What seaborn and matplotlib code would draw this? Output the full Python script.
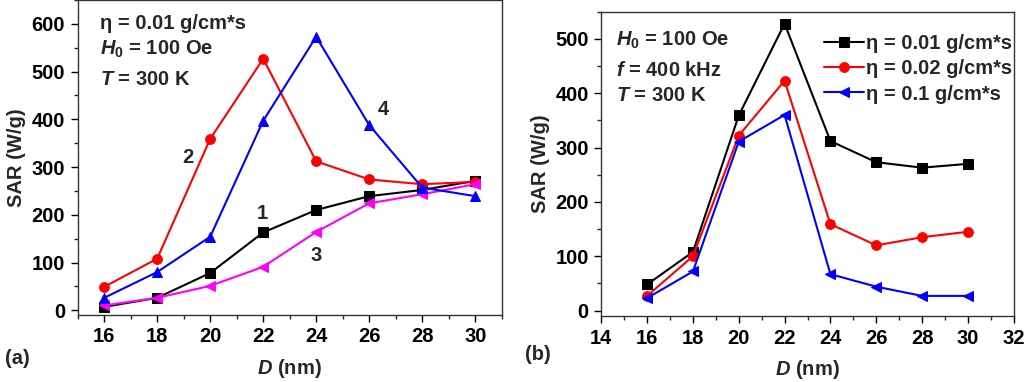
import matplotlib
matplotlib.use("Agg")
import matplotlib.pyplot as plt
import seaborn as sns
import numpy as np
from matplotlib.ticker import MultipleLocator

D = [16, 18, 20, 22, 24, 26, 28, 30]

# panel (a): eta = 0.01 g/cm*s
a1 = [7, 26, 78, 163, 210, 239, 252, 271]
a2 = [49, 108, 359, 527, 312, 274, 264, 269]
a3 = [10, 26, 51, 91, 164, 224, 243, 264]
a4 = [26, 80, 154, 397, 573, 388, 257, 239]

# panel (b): different viscosities
b_001 = [48, 108, 359, 528, 312, 273, 263, 270]
b_002 = [27, 100, 322, 423, 159, 120, 135, 145]
b_01 = [23, 72, 311, 360, 67, 44, 27, 27]
legend_labels = ["η = 0.01 g/cm*s", "η = 0.02 g/cm*s", "η = 0.1 g/cm*s"]

sns.set_theme(style="ticks")
plt.rcParams['font.family'] = ['Liberation Sans', 'DejaVu Sans']
plt.rcParams['font.weight'] = 'bold'
plt.rcParams['mathtext.fontset'] = 'custom'
plt.rcParams['mathtext.rm'] = 'Liberation Sans:bold'
plt.rcParams['mathtext.it'] = 'Liberation Sans:bold:italic'
plt.rcParams['mathtext.bf'] = 'Liberation Sans:bold'

fig = plt.figure(figsize=(10.24, 3.82), dpi=100)
axA = fig.add_axes([77.7/1024, 1 - 315/382, (501.7-77.7)/1024, 315/382])
axB = fig.add_axes([601.3/1024, 1 - 316/382, (1013.7-601.3)/1024, (316-11.7)/382])

FS = 14.5
lw = 1.5

def style(ax):
    for s in ax.spines.values():
        s.set_linewidth(1.0)
        s.set_color('#333333')
    ax.tick_params(which='major', direction='out', length=5, width=1, pad=4, labelsize=FS, colors='black', top=False, right=False)
    ax.tick_params(which='minor', direction='out', length=3, width=1, top=False, right=False)
    for lab in ax.get_xticklabels() + ax.get_yticklabels():
        lab.set_fontweight('bold')
    ax.set_xlabel("$\\mathit{D}$ (nm)", fontsize=FS, fontweight='bold', labelpad=7.5)
    ax.set_ylabel("SAR (W/g)", fontsize=FS, fontweight='bold', labelpad=4)

# Panel (a)
sns.lineplot(x=D, y=a1, ax=axA, color='black', marker='s', markersize=6.5, lw=lw, markeredgecolor='black')
sns.lineplot(x=D, y=a2, ax=axA, color='red', marker='o', markersize=7, lw=lw, markeredgecolor='red')
sns.lineplot(x=D, y=a3, ax=axA, color='magenta', marker='<', markersize=7.5, lw=lw, markeredgecolor='magenta')
sns.lineplot(x=D, y=a4, ax=axA, color='blue', marker='^', markersize=7.5, lw=lw, markeredgecolor='blue')
axA.set_xlim(15, 31)
axA.set_ylim(-10, 650)
axA.xaxis.set_major_locator(MultipleLocator(2))
axA.xaxis.set_minor_locator(MultipleLocator(1))
axA.yaxis.set_major_locator(MultipleLocator(100))
axA.yaxis.set_minor_locator(MultipleLocator(50))
style(axA)
for txt, x, y in [("1", 21.97, 203), ("2", 19.14, 321), ("3", 24.0, 115), ("4", 26.54, 420)]:
    axA.text(x, y, txt, fontsize=FS, fontweight='bold', ha='center', va='center')
axA.text(0.053, 0.924, "η = 0.01 g/cm*s", transform=axA.transAxes, fontsize=FS, fontweight='bold', va='center')
axA.text(0.053, 0.843, "$\\mathit{H}_0$ = 100 Oe", transform=axA.transAxes, fontsize=FS, fontweight='bold', va='center')
axA.text(0.053, 0.749, "$\\mathit{T}$ = 300 K", transform=axA.transAxes, fontsize=FS, fontweight='bold', va='center')

# Panel (b)
sns.lineplot(x=D, y=b_001, ax=axB, color='black', marker='s', markersize=6.5, lw=lw, markeredgecolor='black', label=legend_labels[0])
sns.lineplot(x=D, y=b_002, ax=axB, color='red', marker='o', markersize=7, lw=lw, markeredgecolor='red', label=legend_labels[1])
sns.lineplot(x=D, y=b_01, ax=axB, color='blue', marker='<', markersize=7.5, lw=lw, markeredgecolor='blue', label=legend_labels[2])
axB.set_xlim(14, 32)
axB.set_ylim(-10, 550)
axB.xaxis.set_major_locator(MultipleLocator(2))
axB.xaxis.set_minor_locator(MultipleLocator(1))
axB.yaxis.set_major_locator(MultipleLocator(100))
axB.yaxis.set_minor_locator(MultipleLocator(50))
style(axB)
leg = axB.legend(loc='upper right', bbox_to_anchor=(1.025, 0.965), frameon=False, fontsize=FS,
                 handlelength=2.0, handletextpad=0.1, labelspacing=0.3, borderaxespad=0.2)
for t in leg.get_texts():
    t.set_fontweight('bold')
axB.text(0.036, 0.905, "$\\mathit{H}_0$ = 100 Oe", transform=axB.transAxes, fontsize=FS, fontweight='bold', va='center')
axB.text(0.036, 0.808, "$\\mathit{f}$ = 400 kHz", transform=axB.transAxes, fontsize=FS, fontweight='bold', va='center')
axB.text(0.036, 0.726, "$\\mathit{T}$ = 300 K", transform=axB.transAxes, fontsize=FS, fontweight='bold', va='center')

fig.text(5/1024, 1 - 359/382, "(a)", fontsize=FS, fontweight='bold', va='center')
fig.text(525/1024, 1 - 355/382, "(b)", fontsize=FS, fontweight='bold', va='center')

fig.savefig("out.png", dpi=100)
